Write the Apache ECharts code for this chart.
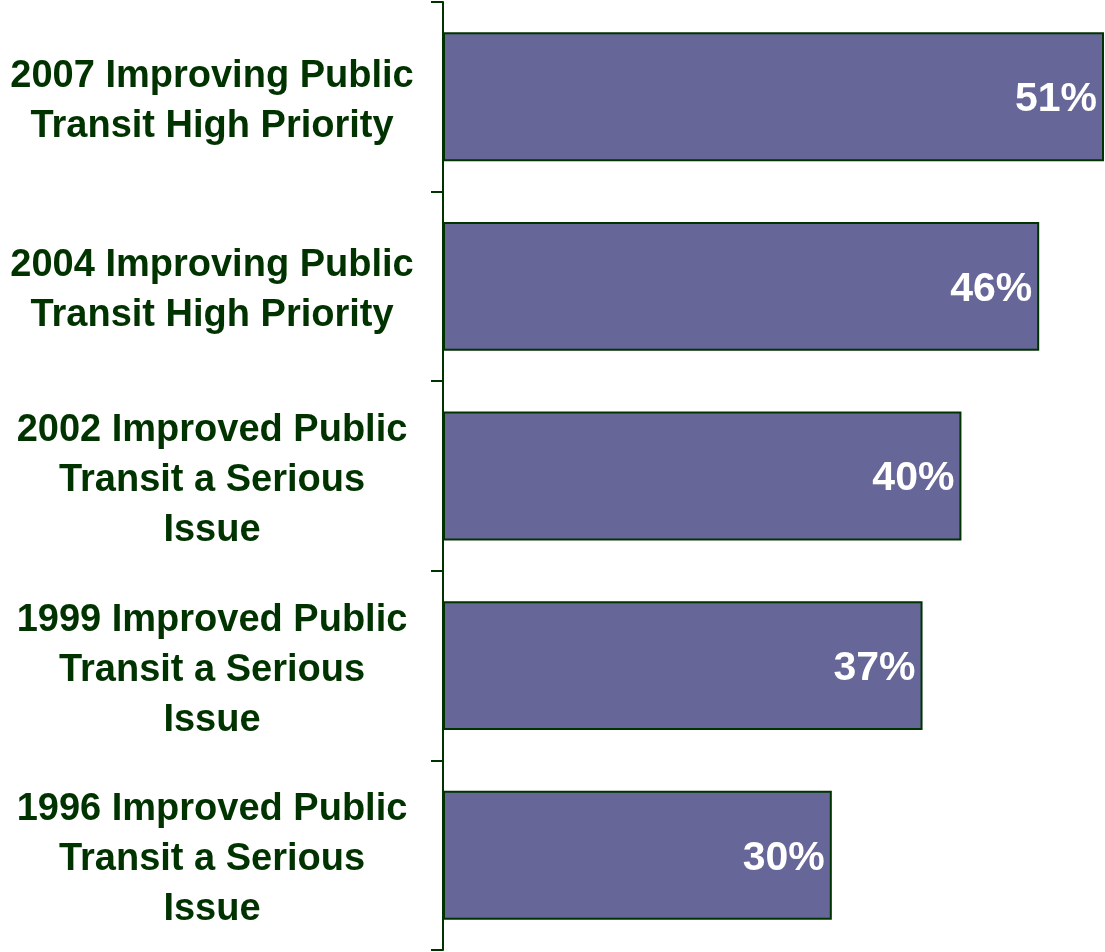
<!DOCTYPE html>
<html>
<head>
<meta charset="utf-8">
<script src="https://cdn.jsdelivr.net/npm/echarts@6/dist/echarts.min.js"></script>
<style>
  html, body { margin: 0; padding: 0; background: #fff; }
  #chart_con { width: 1105px; height: 952px; }
</style>
</head>
<body>
<div id="chart_con"></div>
<script>
// top to bottom, as in the picture
const categories = [
  "2007 Improving Public\nTransit High Priority",
  "2004 Improving Public\nTransit High Priority",
  "2002 Improved Public\nTransit a Serious\nIssue",
  "1999 Improved Public\nTransit a Serious\nIssue",
  "1996 Improved Public\nTransit a Serious\nIssue"
];
const percentValues = [51, 46, 40, 37, 30];

const darkGreen = "#003300";
const fontName = "Liberation Sans, Arial, sans-serif";

const chart = echarts.init(document.getElementById("chart_con"));

const option = {
  animation: false,
  grid: {
    left: 443,
    right: 1,
    top: 2,
    bottom: 2
  },
  xAxis: {
    type: "value",
    min: 0,
    max: 51,
    show: false
  },
  yAxis: {
    type: "category",
    inverse: true,
    data: categories,
    axisLine: {
      show: true,
      lineStyle: { color: darkGreen, width: 2 }
    },
    axisTick: {
      show: true,
      inside: false,
      length: 12,
      lineStyle: { color: darkGreen, width: 2 }
    },
    axisLabel: {
      margin: 231,
      align: "center",
      // small spacer line on top pushes the block down a bit
      formatter: function (value) {
        return "{s| }\n" + value.split("\n").map(function (l) {
          return "{t|" + l + "}";
        }).join("\n");
      },
      rich: {
        s: { fontSize: 1, lineHeight: 9 },
        t: {
          color: darkGreen,
          fontFamily: fontName,
          fontWeight: "bold",
          fontSize: 38,
          lineHeight: 50
        }
      }
    }
  },
  series: [{
    type: "bar",
    data: percentValues,
    barCategoryGap: "32%",
    itemStyle: {
      color: "#666699",
      borderColor: darkGreen,
      borderWidth: 2
    },
    label: {
      show: true,
      position: "insideRight",
      distance: 7,
      offset: [0, 3],
      formatter: "{c}%",
      color: "#fff",
      fontFamily: fontName,
      fontWeight: "bold",
      fontSize: 41
    }
  }]
};

chart.setOption(option);
window.addEventListener("resize", function () {
  chart.resize();
});
</script>
</body>
</html>
